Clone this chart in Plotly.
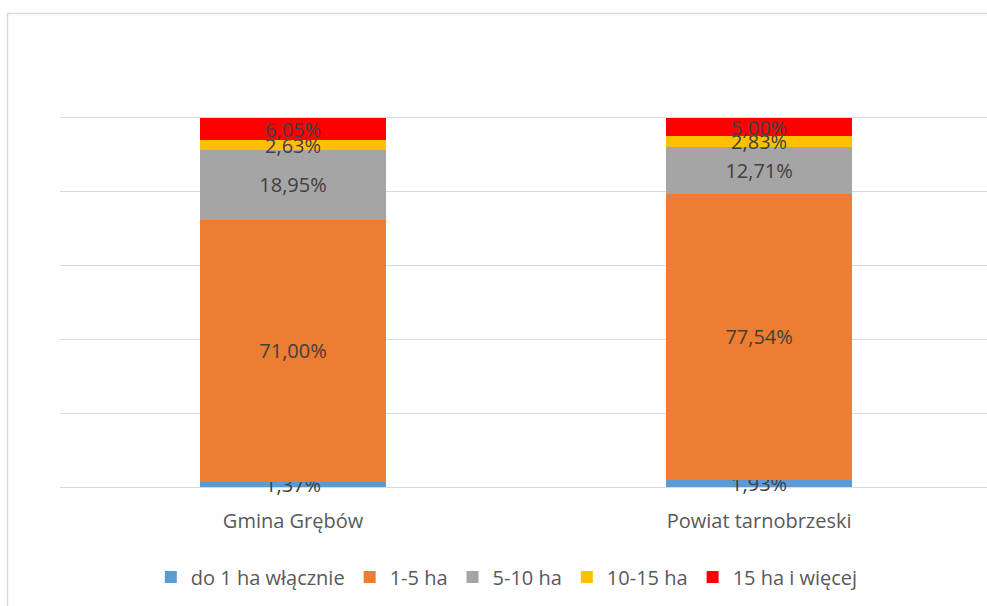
import plotly.graph_objects as go

categories = ["Gmina Grębów", "Powiat tarnobrzeski"]
series_names = ["do 1 ha włącznie", "1-5 ha", "5-10 ha", "10-15 ha", "15 ha i więcej"]
do1 = [1.37, 1.93]
ha1_5 = [71.00, 77.54]
ha5_10 = [18.95, 12.71]
ha10_15 = [2.63, 2.83]
ha15 = [6.05, 5.00]
colors = ["#5B9BD5", "#ED7D31", "#A5A5A5", "#FFC000", "#FF0000"]
y_ticks = [0, 20, 40, 60, 80, 100, 120]

FONT = "Open Sans"
xpos = list(range(len(categories)))

fig = go.Figure()
for name, vals, col in zip(series_names, [do1, ha1_5, ha5_10, ha10_15, ha15], colors):
    fig.add_trace(go.Bar(
        x=xpos, y=vals, name=name, width=0.4,
        marker=dict(color=col, line=dict(width=0)),
        texttemplate="%{y:.2f}%", textposition="inside",
        insidetextanchor="middle", constraintext="none", textangle=0,
        textfont=dict(family=FONT, size=20, color="#404040"),
        cliponaxis=False,
    ))

fig.update_layout(
    barmode="stack",
    width=987, height=606,
    margin=dict(l=60, r=0, t=44, b=119),
    paper_bgcolor="white", plot_bgcolor="white",
    separators=", ",
    font=dict(family=FONT, size=20, color="#595959"),
    showlegend=True,
    legend=dict(orientation="h", x=0.482, xanchor="center", y=-0.203, yanchor="middle",
                font=dict(family=FONT, size=20, color="#595959"), traceorder="normal",
                itemwidth=30),
    uniformtext=dict(mode=False),
)
fig.update_xaxes(
    range=[-0.5, 1.489], tickvals=xpos, ticktext=categories,
    showgrid=False, zeroline=False, showline=False, ticks="",
    ticklabelstandoff=20, tickfont=dict(family=FONT, size=20, color="#595959"),
)
fig.update_yaxes(
    range=[0, 120], tickvals=y_ticks, showticklabels=False,
    showgrid=True, gridcolor="#D9D9D9", gridwidth=1,
    zeroline=True, zerolinecolor="#D9D9D9", zerolinewidth=1, ticks="",
)
fig.add_shape(type="rect", xref="paper", yref="paper",
              x0=-0.0566, x1=2, y0=1.0688, y1=-2,
              line=dict(color="#D9D9D9", width=1.5), fillcolor="rgba(0,0,0,0)", layer="below")

fig.write_html("out.html", config={"displayModeBar": False},
               post_script="document.body.style.margin='0';document.body.style.overflow='hidden';")
